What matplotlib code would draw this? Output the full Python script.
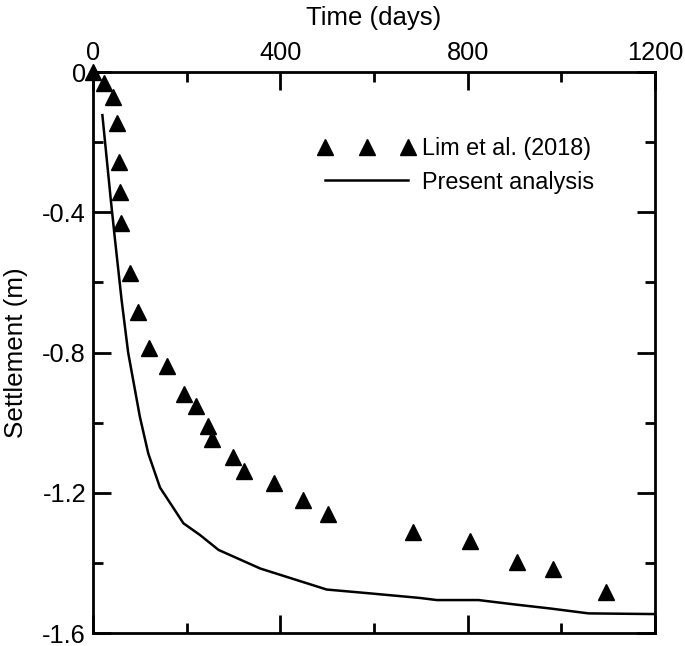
import matplotlib
matplotlib.use("Agg")
import matplotlib.pyplot as plt
from matplotlib.ticker import FixedLocator, FuncFormatter

plt.rcParams['font.family'] = ['Liberation Sans', 'DejaVu Sans']
plt.rcParams['axes.unicode_minus'] = False

# Measured data (Lim et al. 2018)
obs_days = [0, 24, 42, 52, 55, 57, 60, 78, 97, 120, 157, 194, 220, 246, 255,
            299, 322, 387, 449, 501, 683, 804, 905, 982, 1095]
obs_settle = [0.0, -0.031, -0.070, -0.146, -0.256, -0.341, -0.432, -0.574,
              -0.684, -0.788, -0.839, -0.918, -0.953, -1.009, -1.048, -1.097,
              -1.139, -1.173, -1.221, -1.261, -1.311, -1.337, -1.397, -1.417,
              -1.482]

# Present analysis
ana_days = [20, 38, 47, 61, 75, 100, 118, 143, 193, 229, 268, 357, 499, 592,
            698, 734, 823, 897, 976, 1058, 1200]
ana_settle = [-0.123, -0.365, -0.479, -0.65, -0.80, -0.983, -1.088, -1.185,
              -1.287, -1.321, -1.363, -1.416, -1.476, -1.487, -1.50, -1.506,
              -1.506, -1.518, -1.530, -1.544, -1.546]

x_major = [0, 400, 800, 1200]
x_minor = [200, 600, 1000]
y_major = [0, -0.4, -0.8, -1.2, -1.6]
y_minor = [-0.2, -0.6, -1.0, -1.4]

fig = plt.figure(figsize=(6.85, 6.46), dpi=100)
ax = fig.add_axes([0.1358, 0.0201, 0.9562 - 0.1358, 0.8885 - 0.0201])

ax.plot(obs_days, obs_settle, linestyle='none', marker='^', color='black',
        markersize=11, clip_on=False, zorder=3, label='Lim et al. (2018)')
ax.plot(ana_days, ana_settle, color='black', linewidth=1.8,
        label='Present analysis')

ax.set_xlim(0, 1200)
ax.set_ylim(-1.6, 0)

ax.xaxis.set_major_locator(FixedLocator(x_major))
ax.xaxis.set_minor_locator(FixedLocator(x_minor))
ax.yaxis.set_major_locator(FixedLocator(y_major))
ax.yaxis.set_minor_locator(FixedLocator(y_minor))
ax.yaxis.set_major_formatter(FuncFormatter(lambda v, p: '{:g}'.format(round(v, 2)) if v != 0 else '0'))
ax.xaxis.set_major_formatter(FuncFormatter(lambda v, p: '{:g}'.format(v)))

ax.tick_params(which='both', direction='in', top=True, bottom=True,
               left=True, right=True, labeltop=True, labelbottom=False,
               width=2, labelsize=18.3, pad=5)
ax.tick_params(which='major', length=13)
ax.tick_params(which='minor', length=7)
for s in ax.spines.values():
    s.set_linewidth(2)

ax.xaxis.set_label_position('top')
ax.set_xlabel('Time (days)', fontsize=18.5, labelpad=11.5)
ax.set_ylabel('Settlement (m)', fontsize=18.7, labelpad=10.5)

ax.legend(loc='upper left', bbox_to_anchor=(0.401, 0.884), frameon=False,
          fontsize=16.8, numpoints=3, handlelength=4.15, handletextpad=0.3,
          labelspacing=0.45, borderpad=0, borderaxespad=0)

fig.savefig('out.png', dpi=100)
